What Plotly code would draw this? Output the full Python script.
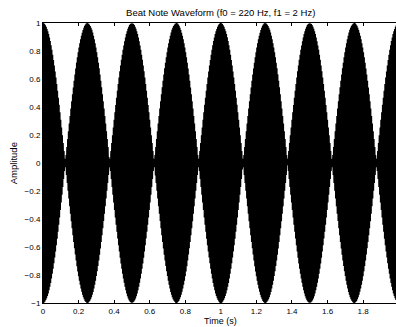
import numpy as np
import plotly.graph_objects as go

# Signal parameters (from the chart title)
f0 = 220.0      # carrier frequency, Hz
f1 = 2.0        # beat frequency, Hz
duration = 2.0  # seconds
fs = 11025      # sampling rate, Hz

t = np.arange(0, duration, 1.0 / fs)
y = np.cos(2 * np.pi * f1 * t) * np.cos(2 * np.pi * f0 * t)

x_ticks = [0, 0.2, 0.4, 0.6, 0.8, 1, 1.2, 1.4, 1.6, 1.8]
x_tick_labels = ["0", "0.2", "0.4", "0.6", "0.8", "1", "1.2", "1.4", "1.6", "1.8"]
y_ticks = [-1, -0.8, -0.6, -0.4, -0.2, 0, 0.2, 0.4, 0.6, 0.8, 1]
y_tick_labels = ["\u22121", "\u22120.8", "\u22120.6", "\u22120.4", "\u22120.2", "0", "0.2", "0.4", "0.6", "0.8", "1"]

W, H = 396, 327
L, T, B = 42.7, 22.7, 23.5

fig = go.Figure()
fig.add_trace(go.Scatter(x=t, y=y, mode="lines",
                         line=dict(color="black", width=1.2),
                         hoverinfo="skip", showlegend=False))

family = "Liberation Sans, Arial, Helvetica, sans-serif"
font = dict(family=family, size=8, color="black")
label_font = dict(family=family, size=9.5, color="black")

fig.update_layout(
    width=W, height=H,
    margin=dict(l=L, r=0, t=T, b=B, pad=0),
    paper_bgcolor="white", plot_bgcolor="white",
    font=font,
    title=dict(text="Beat Note Waveform (f0 = 220 Hz, f1 = 2 Hz)",
               x=220.7 / W, xanchor="center",
               y=1 - 12.5 / H, yanchor="middle",
               font=label_font),
    xaxis=dict(range=[0, 1.985], tickvals=x_ticks, ticktext=x_tick_labels,
               showgrid=False, zeroline=False, showline=True, linecolor="black",
               linewidth=1, mirror="ticks", ticks="inside", ticklen=3,
               tickcolor="black", tickwidth=0.8, tickfont=font),
    yaxis=dict(range=[-1, 1], tickvals=y_ticks, ticktext=y_tick_labels,
               showgrid=False, zeroline=False, showline=True, linecolor="black",
               linewidth=1, mirror="ticks", ticks="inside", ticklen=3,
               tickcolor="black", tickwidth=0.8, tickfont=font),
    annotations=[
        dict(text="Time (s)", xref="paper", yref="paper",
             x=(220.5 - L) / (W - L), y=-(B + 0.5) / (H - T - B),
             xanchor="center", yanchor="bottom", borderpad=0,
             showarrow=False, font=dict(family=family, size=9, color="black")),
        dict(text="Amplitude", xref="paper", yref="paper", textangle=-90,
             x=-(L - 13) / (W - L), y=0.5,
             xanchor="center", yanchor="middle", showarrow=False, font=label_font),
    ],
)

fig.write_html("out.html")
